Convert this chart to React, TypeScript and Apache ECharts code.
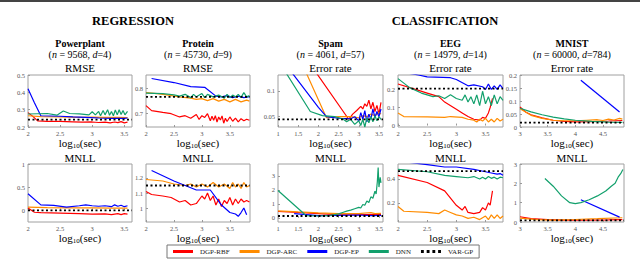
import React, { useEffect, useRef } from "react";
import * as echarts from "echarts";

type Pts = [number, number][];

const seriesNames = ["DGP-RBF", "DGP-ARC", "DGP-EP", "DNN", "VAR-GP"];
const seriesColors = ["#ff0000", "#ff8c00", "#0000ff", "#12a06c", "#000000"];

const datasetTitles = ["Powerplant", "Protein", "Spam", "EEG", "MNIST"];
const datasetSizes = [
  ["9568", "4"],
  ["45730", "9"],
  ["4061", "57"],
  ["14979", "14"],
  ["60000", "784"],
];
const topMetric = ["RMSE", "RMSE", "Error rate", "Error rate", "Error rate"];
const bottomMetric = ["MNLL", "MNLL", "MNLL", "MNLL", "MNLL"];

// ---------- Powerplant ----------
const ppRmseRbf: Pts = [[2,0.283],[2.08,0.26],[2.15,0.235],[2.3,0.233],[2.5,0.232],[2.7,0.23],[2.85,0.228],[3.0,0.229],[3.1,0.226],[3.2,0.228],[3.28,0.224],[3.35,0.229],[3.4,0.225],[3.45,0.231],[3.5,0.224],[3.55,0.228]];
const ppRmseArc: Pts = [[2,0.265],[2.2,0.26],[2.5,0.258],[2.8,0.256],[3.0,0.257],[3.2,0.255],[3.4,0.256],[3.55,0.254]];
const ppRmseEp: Pts = [[2,0.42],[2.1,0.34],[2.2,0.265],[2.5,0.262],[2.7,0.258],[2.9,0.255],[3.1,0.252],[3.3,0.25],[3.5,0.25],[3.55,0.252]];
const ppRmseDnn: Pts = [[2,0.275],[2.3,0.278],[2.45,0.268],[2.55,0.292],[2.65,0.278],[2.8,0.276],[2.95,0.27],[3.0,0.288],[3.05,0.27],[3.1,0.29],[3.13,0.265],[3.17,0.295],[3.2,0.27],[3.24,0.3],[3.27,0.268],[3.3,0.29],[3.33,0.265],[3.36,0.298],[3.39,0.27],[3.42,0.3],[3.45,0.272],[3.48,0.295],[3.51,0.27],[3.55,0.29]];
const ppRmseVar = 0.243;

const ppMnllRbf: Pts = [[2,0.05],[2.1,-0.04],[2.2,-0.05],[2.5,-0.06],[2.8,-0.07],[3.0,-0.08],[3.2,-0.075],[3.3,-0.09],[3.4,-0.07],[3.45,-0.09],[3.5,-0.07],[3.55,-0.08]];
const ppMnllArc: Pts = [[2,0.07],[2.3,0.06],[2.6,0.055],[3.0,0.055],[3.3,0.05],[3.55,0.05]];
const ppMnllEp: Pts = [[2,0.36],[2.2,0.12],[2.4,0.11],[2.6,0.07],[2.8,0.1],[2.9,0.12],[3.0,0.1],[3.1,0.09],[3.2,0.1],[3.3,0.08],[3.35,0.12],[3.4,0.09],[3.45,0.11],[3.5,0.08],[3.55,0.1]];
const ppMnllDnn: Pts = [];
const ppMnllVar = 0;

// ---------- Protein ----------
const prRmseRbf: Pts = [[2,0.73],[2.1,0.71],[2.3,0.703],[2.45,0.698],[2.6,0.685],[2.7,0.69],[2.8,0.68],[2.9,0.695],[2.95,0.675],[3.0,0.69],[3.05,0.683],[3.1,0.698],[3.15,0.67],[3.18,0.688],[3.21,0.672],[3.24,0.69],[3.27,0.665],[3.3,0.685],[3.33,0.673],[3.36,0.689],[3.39,0.66],[3.42,0.68],[3.45,0.667],[3.5,0.685],[3.55,0.668],[3.6,0.68],[3.65,0.665],[3.7,0.678],[3.75,0.67],[3.8,0.676],[3.85,0.672]];
const prRmseArc: Pts = [[2,0.782],[2.2,0.778],[2.4,0.772],[2.6,0.765],[2.8,0.76],[2.9,0.755],[3.0,0.758],[3.1,0.75],[3.2,0.758],[3.3,0.748],[3.4,0.755],[3.5,0.745],[3.6,0.755],[3.7,0.745],[3.8,0.752],[3.85,0.748]];
const prRmseEp: Pts = [[2.1,0.838],[2.5,0.822],[2.8,0.806],[3.05,0.803],[3.25,0.768],[3.35,0.765],[3.45,0.77],[3.55,0.762],[3.65,0.768],[3.75,0.762],[3.85,0.766]];
const prRmseDnn: Pts = [[2,0.78],[2.3,0.778],[2.5,0.773],[2.6,0.768],[2.7,0.775],[2.8,0.762],[2.85,0.775],[2.9,0.765],[3.0,0.778],[3.05,0.762],[3.1,0.775],[3.2,0.765],[3.3,0.772],[3.4,0.76],[3.45,0.775],[3.5,0.762],[3.55,0.772],[3.6,0.765],[3.65,0.775],[3.7,0.763],[3.75,0.782],[3.8,0.765],[3.85,0.77]];
const prRmseVar = 0.765;

const prMnllRbf: Pts = [[2,1.11],[2.1,1.09],[2.3,1.08],[2.45,1.07],[2.6,1.04],[2.7,1.05],[2.8,1.02],[2.9,1.03],[3.0,1.08],[3.05,1.06],[3.1,1.1],[3.15,1.05],[3.2,1.08],[3.25,1.02],[3.3,1.06],[3.35,1.01],[3.4,1.05],[3.45,1.03],[3.5,1.07],[3.55,1.02],[3.6,1.06],[3.65,1.03],[3.7,1.06],[3.75,1.04],[3.8,1.05],[3.85,1.04]];
const prMnllArc: Pts = [[2,1.19],[2.3,1.18],[2.5,1.16],[2.7,1.15],[2.8,1.16],[2.9,1.14],[3.0,1.16],[3.1,1.14],[3.2,1.17],[3.3,1.14],[3.4,1.16],[3.5,1.13],[3.55,1.17],[3.6,1.14],[3.65,1.16],[3.7,1.13],[3.75,1.17],[3.8,1.14],[3.85,1.15]];
const prMnllEp: Pts = [[2.1,1.25],[2.5,1.18],[2.9,1.12],[3.15,1.12],[3.35,1.02],[3.5,0.97],[3.6,0.96],[3.65,0.945],[3.7,0.97],[3.75,1.0],[3.8,0.955]];
const prMnllDnn: Pts = [];
const prMnllVar = 1.15;

// ---------- Spam ----------
const spErrRbf: Pts = [[1.95,0.135],[2.75,0.045],[2.85,0.055],[2.95,0.062],[3.05,0.07],[3.1,0.065],[3.15,0.075],[3.2,0.07],[3.25,0.082],[3.3,0.065],[3.35,0.078],[3.4,0.06],[3.45,0.072],[3.5,0.055],[3.55,0.078]];
const spErrArc: Pts = [[1.7,0.135],[2.2,0.048],[2.5,0.05],[2.8,0.05],[3.0,0.048],[3.1,0.052],[3.2,0.05],[3.3,0.055],[3.4,0.052],[3.5,0.058],[3.55,0.055]];
const spErrEp: Pts = [[1.35,0.135],[2.0,0.068],[2.2,0.05],[2.5,0.047],[2.8,0.046],[2.9,0.05],[3.0,0.042],[3.05,0.058],[3.1,0.045],[3.15,0.062],[3.2,0.04],[3.25,0.055],[3.3,0.045],[3.35,0.065],[3.4,0.048],[3.45,0.06],[3.5,0.05],[3.55,0.065]];
const spErrDnn: Pts = [[1.2,0.135],[1.8,0.06],[2.1,0.052],[2.4,0.05],[2.6,0.046],[2.7,0.04],[2.8,0.045],[2.9,0.035],[3.0,0.042],[3.05,0.033],[3.1,0.045],[3.15,0.03],[3.2,0.048],[3.25,0.038],[3.3,0.05],[3.35,0.04],[3.4,0.052],[3.45,0.042],[3.5,0.05],[3.55,0.045]];
const spErrVar = 0.045;

const spMnllRbf: Pts = [[1,0.45],[1.5,0.38],[2,0.3],[2.5,0.22],[3,0.22],[3.3,0.25],[3.55,0.25]];
const spMnllArc: Pts = [[1,0.5],[1.5,0.42],[2,0.35],[2.5,0.3],[3,0.3],[3.3,0.38],[3.4,0.3],[3.55,0.32]];
const spMnllEp: Pts = [[1.4,0.3],[2,0.15],[2.5,0.18],[3,0.2],[3.3,0.15],[3.55,0.18]];
const spMnllDnn: Pts = [[1,1.95],[1.7,0.15],[2,0.13],[2.3,0.18],[2.5,0.28],[2.6,0.38],[2.7,0.48],[2.8,0.55],[2.9,0.65],[3.0,0.75],[3.05,0.7],[3.1,0.95],[3.15,0.9],[3.2,1.2],[3.25,1.1],[3.3,1.5],[3.35,1.4],[3.4,1.9],[3.43,1.7],[3.46,2.6],[3.48,3.6],[3.5,2.2],[3.53,2.9],[3.55,2.5]];
const spMnllVar = 0.13;

// ---------- EEG ----------
const eegErrRbf: Pts = [[2,0.23],[2.3,0.2],[2.5,0.18],[2.7,0.16],[2.8,0.13],[3.0,0.09],[3.1,0.07],[3.2,0.05],[3.3,0.035],[3.4,0.03],[3.45,0.045],[3.5,0.04],[3.55,0.07],[3.58,0.1],[3.62,0.15]];
const eegErrArc: Pts = [[2,0.07],[2.1,0.05],[2.5,0.048],[2.8,0.045],[2.9,0.05],[3.1,0.045],[3.2,0.035],[3.3,0.03],[3.35,0.02],[3.4,0.035],[3.45,0.025],[3.5,0.04],[3.55,0.02],[3.6,0.035],[3.65,0.02],[3.7,0.04],[3.75,0.025],[3.8,0.035]];
const eegErrEp: Pts = [[2,0.3],[2.35,0.28],[2.5,0.27],[2.9,0.265],[3.0,0.255],[3.2,0.22],[3.3,0.225],[3.45,0.215],[3.5,0.2],[3.55,0.23],[3.6,0.2],[3.65,0.22],[3.7,0.2],[3.75,0.225],[3.8,0.205]];
const eegErrDnn: Pts = [[2,0.26],[2.2,0.21],[2.4,0.18],[2.6,0.16],[2.7,0.165],[2.8,0.15],[2.9,0.17],[3.0,0.15],[3.1,0.14],[3.15,0.17],[3.2,0.13],[3.25,0.16],[3.3,0.12],[3.35,0.17],[3.4,0.11],[3.45,0.19],[3.5,0.12],[3.55,0.16],[3.6,0.11],[3.65,0.17],[3.7,0.12],[3.75,0.16],[3.8,0.14]];
const eegErrVar = 0.205;

const eegMnllRbf: Pts = [[2,0.43],[2.5,0.37],[2.8,0.3],[3.0,0.18],[3.1,0.14],[3.15,0.17],[3.2,0.12],[3.3,0.11],[3.4,0.12],[3.45,0.16],[3.5,0.14],[3.55,0.2],[3.58,0.18],[3.62,0.3]];
const eegMnllArc: Pts = [[2,0.17],[2.1,0.13],[2.5,0.12],[2.7,0.11],[2.8,0.14],[2.9,0.12],[3.0,0.1],[3.1,0.09],[3.2,0.07],[3.3,0.08],[3.4,0.06],[3.5,0.09],[3.55,0.06],[3.6,0.1],[3.65,0.07],[3.7,0.1],[3.75,0.07],[3.8,0.09]];
const eegMnllEp: Pts = [[2,0.55],[2.5,0.52],[2.8,0.5],[3.0,0.5],[3.3,0.48],[3.5,0.46],[3.6,0.45],[3.7,0.44],[3.75,0.445],[3.8,0.43]];
const eegMnllDnn: Pts = [[2,0.48],[2.5,0.46],[2.8,0.43],[3.0,0.42],[3.2,0.41],[3.3,0.42],[3.4,0.4],[3.45,0.415],[3.5,0.4],[3.55,0.42],[3.6,0.405],[3.65,0.415],[3.7,0.4],[3.75,0.415],[3.8,0.41]];
const eegMnllVar = 0.465;

// ---------- MNIST ----------
const mnErrRbf: Pts = [[3,0.077],[3.1,0.058],[3.2,0.047],[3.4,0.035],[3.6,0.026],[3.8,0.022],[4.0,0.02],[4.3,0.021],[4.6,0.023],[4.85,0.025]];
const mnErrArc: Pts = [[3,0.07],[3.2,0.045],[3.4,0.033],[3.6,0.026],[3.8,0.024],[4.0,0.024],[4.2,0.026],[4.4,0.028],[4.5,0.025],[4.6,0.03],[4.7,0.027],[4.8,0.033],[4.85,0.03]];
const mnErrEp: Pts = [[4.1,0.18],[4.8,0.058]];
const mnErrDnn: Pts = [[3,0.072],[3.2,0.058],[3.4,0.047],[3.6,0.038],[3.8,0.031],[4.0,0.026],[4.3,0.022],[4.6,0.019],[4.85,0.018]];
const mnErrVar = 0.017;

const mnMnllRbf: Pts = [[3,0.27],[3.2,0.17],[3.5,0.12],[3.8,0.1],[4.2,0.1],[4.6,0.11],[4.85,0.12]];
const mnMnllArc: Pts = [[3,0.2],[3.3,0.12],[3.6,0.1],[4.0,0.13],[4.4,0.17],[4.85,0.22]];
const mnMnllEp: Pts = [[4.1,1.15],[4.8,0.25]];
const mnMnllDnn: Pts = [[3.45,2.25],[3.6,1.85],[3.75,1.35],[3.9,1.0],[4.0,0.95],[4.1,1.0],[4.25,1.15],[4.4,1.35],[4.55,1.6],[4.65,1.85],[4.72,2.0],[4.78,2.35],[4.82,2.5],[4.86,2.72]];
const mnMnllVar = 0.08;

// ---------- axis ranges and tick labels ----------
const xRanges = [[2, 3.62], [2, 3.86], [1, 3.6], [2, 3.8], [3, 4.88]];
const xTickLabels = [
  [2, 2.5, 3, 3.5],
  [2, 2.5, 3, 3.5],
  [1, 1.5, 2, 2.5, 3, 3.5],
  [2, 2.5, 3, 3.5],
  [3, 3.5, 4, 4.5],
];
const yRangesTop = [[0.2, 0.5], [0.645, 0.852], [0.03, 0.131], [-0.008, 0.28], [0, 0.2]];
const yTicksTop = [
  [0.2, 0.3, 0.4, 0.5],
  [0.7, 0.8],
  [0.05, 0.1],
  [0, 0.1, 0.2],
  [0, 0.05, 0.1, 0.15, 0.2],
];
const yRangesBottom = [[-0.25, 1], [0.907, 1.293], [-0.3, 3.85], [0.04, 0.525], [0, 3]];
const yTicksBottom = [
  [0, 0.5, 1],
  [1, 1.1, 1.2],
  [0, 1, 2, 3],
  [0.2, 0.4],
  [0, 1, 2, 3],
];

const topLines: Pts[][] = [
  [ppRmseRbf, ppRmseArc, ppRmseEp, ppRmseDnn],
  [prRmseRbf, prRmseArc, prRmseEp, prRmseDnn],
  [spErrRbf, spErrArc, spErrEp, spErrDnn],
  [eegErrRbf, eegErrArc, eegErrEp, eegErrDnn],
  [mnErrRbf, mnErrArc, mnErrEp, mnErrDnn],
];
const topVar = [ppRmseVar, prRmseVar, spErrVar, eegErrVar, mnErrVar];
const bottomLines: Pts[][] = [
  [ppMnllRbf, ppMnllArc, ppMnllEp, ppMnllDnn],
  [prMnllRbf, prMnllArc, prMnllEp, prMnllDnn],
  [spMnllRbf, spMnllArc, spMnllEp, spMnllDnn],
  [eegMnllRbf, eegMnllArc, eegMnllEp, eegMnllDnn],
  [mnMnllRbf, mnMnllArc, mnMnllEp, mnMnllDnn],
];
const bottomVar = [ppMnllVar, prMnllVar, spMnllVar, eegMnllVar, mnMnllVar];

const SERIF = "'Liberation Serif', 'DejaVu Serif', serif";
const SOLID_ICON = "path://M0,0L20,0L20,3L0,3Z";
const DOTTED_ICON = "path://M0,0h3v3h-3zM6,0h3v3h-3zM12,0h3v3h-3zM18,0h3v3h-3z";

export default function App() {
  const ref = useRef<HTMLDivElement>(null);
  useEffect(() => {
    if (!ref.current) return;
    const chart = echarts.init(ref.current, undefined, { renderer: "svg" });

    const colLeft = [28, 146, 278, 398, 520];
    const colWidth = [104, 104, 105, 105, 104];
    const rowTop = [75, 164];
    const rowHeight = [52, 58];

    const grids: any[] = [];
    const xAxes: any[] = [];
    const yAxes: any[] = [];
    const series: any[] = [];
    const graphics: any[] = [];

    graphics.push({ type: "rect", shape: { x: 0, y: 0, width: 640, height: 2 }, style: { fill: "#444" } });
    graphics.push({
      type: "text", x: 133, y: 21,
      style: { text: "REGRESSION", align: "center", verticalAlign: "middle", fontFamily: SERIF, fontWeight: "bold", fontSize: 12.5, fill: "#000" },
    });
    graphics.push({
      type: "text", x: 445, y: 21,
      style: { text: "CLASSIFICATION", align: "center", verticalAlign: "middle", fontFamily: SERIF, fontWeight: "bold", fontSize: 12.5, fill: "#000" },
    });

    for (let c = 0; c < 5; c++) {
      const cx = colLeft[c] + colWidth[c] / 2;
      graphics.push({
        type: "text", x: cx, y: 43,
        style: { text: datasetTitles[c], align: "center", verticalAlign: "middle", fontFamily: SERIF, fontWeight: "bold", fontSize: 10, fill: "#000" },
      });
      graphics.push({
        type: "text", x: cx, y: 54,
        style: {
          text: "({i|n} = " + datasetSizes[c][0] + ", {i|d}=" + datasetSizes[c][1] + ")",
          align: "center", verticalAlign: "middle", fontFamily: SERIF, fontSize: 10, fill: "#000",
          rich: { i: { fontStyle: "italic", fontFamily: SERIF, fontSize: 10, fill: "#000" } },
        },
      });
      graphics.push({
        type: "text", x: cx, y: 68,
        style: { text: topMetric[c], align: "center", verticalAlign: "middle", fontFamily: SERIF, fontSize: 11, fill: "#000" },
      });
      graphics.push({
        type: "text", x: cx, y: 158,
        style: { text: bottomMetric[c], align: "center", verticalAlign: "middle", fontFamily: SERIF, fontSize: 11, fill: "#000" },
      });

      for (let r = 0; r < 2; r++) {
        const gi = grids.length;
        grids.push({
          left: colLeft[c], top: rowTop[r], width: colWidth[c], height: rowHeight[r],
          show: true, borderColor: "#a0a0a0", borderWidth: 1, backgroundColor: "#fff",
        });
        const yr = r === 0 ? yRangesTop[c] : yRangesBottom[c];
        const yt = r === 0 ? yTicksTop[c] : yTicksBottom[c];
        xAxes.push({
          type: "value", gridIndex: gi, min: xRanges[c][0], max: xRanges[c][1],
          axisLine: { show: false },
          axisTick: { show: true, inside: true, length: 2, customValues: xTickLabels[c], lineStyle: { color: "#999" } },
          axisLabel: { customValues: xTickLabels[c], fontSize: 6.5, color: "#555", margin: 3, fontFamily: SERIF },
          splitLine: { show: false },
          name: "{a|log}{s|10}{a|(sec)}",
          nameLocation: "middle",
          nameGap: 8,
          nameTextStyle: {
            rich: {
              a: { fontSize: 11, fontFamily: SERIF, color: "#000" },
              s: { fontSize: 7, fontFamily: SERIF, color: "#000", padding: [5, 0, 0, 0] },
            },
          },
        });
        yAxes.push({
          type: "value", gridIndex: gi, min: yr[0], max: yr[1],
          axisLine: { show: false },
          axisTick: { show: true, inside: true, length: 2, customValues: yt, lineStyle: { color: "#999" } },
          axisLabel: { customValues: yt, fontSize: 6.5, color: "#555", margin: 3, fontFamily: SERIF },
          splitLine: { show: false },
        });
        const lines = r === 0 ? topLines[c] : bottomLines[c];
        const v = r === 0 ? topVar[c] : bottomVar[c];
        for (let s = 0; s < 4; s++) {
          if (!lines[s].length) continue;
          series.push({
            type: "line", name: seriesNames[s], xAxisIndex: gi, yAxisIndex: gi,
            data: lines[s], symbol: "none", showSymbol: false, clip: true,
            lineStyle: { color: seriesColors[s], width: 1.2 },
            itemStyle: { color: seriesColors[s] },
            silent: true,
          });
        }
        series.push({
          type: "line", name: seriesNames[4], xAxisIndex: gi, yAxisIndex: gi,
          data: [[xRanges[c][0], v], [xRanges[c][1], v]], symbol: "none", showSymbol: false,
          lineStyle: { color: "#000", width: 1.8, type: [2, 2.5] },
          itemStyle: { color: "#000" },
          silent: true,
        });
      }
    }

    chart.setOption({
      animation: false,
      backgroundColor: "#fff",
      grid: grids,
      xAxis: xAxes,
      yAxis: yAxes,
      series,
      graphic: graphics,
      legend: {
        data: seriesNames.map((n, i) => ({ name: n, icon: i === 4 ? DOTTED_ICON : SOLID_ICON, itemStyle: { color: seriesColors[i] } })),
        left: 167, top: 245,
        orient: "horizontal",
        borderColor: "#777", borderWidth: 1, padding: [3, 6],
        itemWidth: 20, itemHeight: 3, itemGap: 10,
        textStyle: { fontSize: 7, fontFamily: SERIF, color: "#222", padding: [0, 0, 0, 2] },
        selectedMode: false,
      },
    });
    return () => chart.dispose();
  }, []);
  return <div ref={ref} style={{ position: "fixed", left: 0, top: 0, width: 640, height: 260 }} />;
}
